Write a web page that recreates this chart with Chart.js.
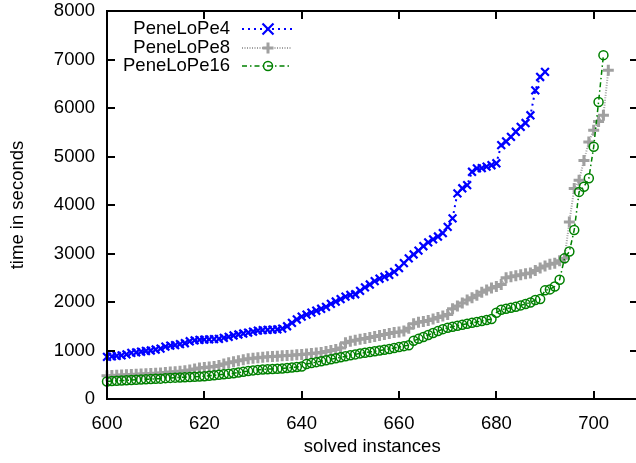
<!DOCTYPE html>
<html>
<head>
<meta charset="utf-8">
<script src="https://cdn.jsdelivr.net/npm/chart.js@4/dist/chart.umd.min.js"></script>
<style>
  html, body { margin: 0; padding: 0; background: #fff; overflow: hidden; }
  #wrap { width: 646px; height: 463px; }
</style>
</head>
<body>
<div id="wrap"><canvas id="cactus" width="646" height="463"></canvas></div>
<script>
// solved instance index of the first value in each run
const firstInstance = 600;

const xTicks = [600, 620, 640, 660, 680, 700];
const yTicks = [0, 1000, 2000, 3000, 4000, 5000, 6000, 7000, 8000];

// cumulative solve times (seconds), one value per solved instance
const penelope4 = [
  870, 880, 890, 900, 920, 950, 960, 975, 990, 1000,
  1020, 1040, 1080, 1100, 1110, 1130, 1150, 1190, 1210, 1220,
  1225, 1230, 1235, 1240, 1260, 1280, 1310, 1330, 1350, 1370,
  1390, 1410, 1420, 1425, 1430, 1435, 1450, 1500, 1570, 1640,
  1700, 1740, 1780, 1820, 1860, 1900, 1960, 2010, 2060, 2110,
  2145, 2160, 2230, 2300, 2360, 2430, 2480, 2520, 2560, 2620,
  2700, 2800, 2900, 2980, 3060, 3150, 3230, 3290, 3350, 3420,
  3550, 3725, 4240, 4345, 4410, 4685, 4755, 4760, 4790, 4820,
  4860, 5235, 5310, 5405, 5510, 5610, 5690, 5850, 6365, 6640,
  6745
];

const penelope8 = [
  480, 485, 490, 495, 500, 505, 510, 515, 520, 525,
  530, 535, 545, 555, 560, 570, 580, 600, 620, 640,
  650, 660, 670, 690, 720, 750, 770, 790, 810, 830,
  840, 850, 860, 870, 875, 880, 890, 895, 900, 910,
  920, 930, 940, 950, 960, 980, 1000, 1020, 1050, 1160,
  1190, 1210, 1230, 1250, 1270, 1290, 1310, 1330, 1350, 1370,
  1380, 1400, 1460, 1550, 1580, 1600, 1620, 1650, 1680, 1710,
  1740, 1860, 1920, 1980, 2040, 2090, 2140, 2200, 2250, 2290,
  2320, 2360, 2500, 2520, 2540, 2560, 2580, 2600, 2650, 2700,
  2740, 2780, 2800, 2850, 2900, 3650, 4340, 4510, 4920, 5300,
  5540, 5720, 5850, 6780
];

const penelope16 = [
  360, 370, 375, 380, 385, 390, 395, 400, 405, 410,
  415, 420, 430, 435, 440, 445, 450, 455, 460, 465,
  470, 480, 490, 500, 510, 520, 530, 545, 560, 575,
  590, 600, 610, 615, 620, 625, 630, 640, 650, 660,
  670, 720, 740, 760, 780, 800, 820, 840, 860, 880,
  900, 920, 940, 955, 970, 985, 1000, 1015, 1030, 1050,
  1070, 1090, 1110, 1200, 1240, 1280, 1320, 1360, 1400, 1440,
  1470, 1490, 1510, 1530, 1550, 1570, 1590, 1610, 1630, 1650,
  1780, 1840, 1860, 1880, 1900, 1930, 1960, 1990, 2040, 2060,
  2240, 2260, 2320, 2460, 2900, 3040, 3485, 4270, 4375, 4550,
  5200, 6125, 7090
];

const toPoints = (values) => values.map((y, i) => ({ x: firstInstance + i, y: y }));

const fontFamily = "'Liberation Sans', Arial, sans-serif";
const baseFont = { family: fontFamily, size: 18.5 };

// gnuplot style marker, used for the key samples
function drawMarker(ctx, style, x, y, r, color, width) {
  ctx.save();
  ctx.strokeStyle = color;
  ctx.lineWidth = width;
  ctx.setLineDash([]);
  ctx.beginPath();
  if (style === "crossRot") {
    ctx.moveTo(x - r, y - r); ctx.lineTo(x + r, y + r);
    ctx.moveTo(x - r, y + r); ctx.lineTo(x + r, y - r);
  } else if (style === "cross") {
    ctx.moveTo(x - r, y); ctx.lineTo(x + r, y);
    ctx.moveTo(x, y - r); ctx.lineTo(x, y + r);
  } else {
    ctx.arc(x, y, r, 0, Math.PI * 2);
  }
  ctx.stroke();
  ctx.restore();
}

// box round the plot with inward ticks on all four sides
const framePlugin = {
  id: "frame",
  afterDraw(chart) {
    const { ctx } = chart;
    const xs = chart.scales.x, ys = chart.scales.y;
    const left = Math.round(xs.getPixelForValue(xs.min));
    const right = Math.round(xs.getPixelForValue(xs.max));
    const top = Math.round(ys.getPixelForValue(ys.max));
    const bottom = Math.round(ys.getPixelForValue(ys.min));
    const w = 2, len = 8;
    ctx.save();
    ctx.fillStyle = "#000";
    // border
    ctx.fillRect(left - 1, top - 1, right - left + w, w);
    ctx.fillRect(left - 1, bottom - 1, right - left + w, w);
    ctx.fillRect(left - 1, top - 1, w, bottom - top + w);
    ctx.fillRect(right - 1, top - 1, w, bottom - top + w);
    // inward ticks
    xTicks.forEach((v) => {
      const px = Math.round(xs.getPixelForValue(v));
      ctx.fillRect(px - 1, bottom - len, w, len);
      ctx.fillRect(px - 1, top, w, len);
    });
    yTicks.forEach((v) => {
      const py = Math.round(ys.getPixelForValue(v));
      ctx.fillRect(left, py - 1, len, w);
      ctx.fillRect(right - len, py - 1, len, w);
    });
    ctx.restore();
  }
};

// key in the top left corner: right aligned label, then line sample
const keyPlugin = {
  id: "key",
  afterDraw(chart) {
    const { ctx } = chart;
    const rows = [29, 48, 66];
    ctx.save();
    ctx.font = "18.5px " + fontFamily;
    ctx.textAlign = "right";
    ctx.textBaseline = "middle";
    chart.data.datasets.forEach((ds, i) => {
      const y = rows[i];
      ctx.fillStyle = "#000";
      ctx.fillText(ds.label, 230, y);
      ctx.strokeStyle = ds.borderColor;
      ctx.lineWidth = ds.borderWidth;
      ctx.setLineDash(ds.borderDash);
      ctx.beginPath();
      ctx.moveTo(242, y);
      ctx.lineTo(292, y);
      ctx.stroke();
      drawMarker(ctx, ds.pointStyle, 268, y, ds.pointRadius, ds.borderColor, ds.pointBorderWidth);
    });
    ctx.restore();
  }
};

new Chart(document.getElementById("cactus").getContext("2d"), {
  type: "line",
  data: {
    datasets: [
      {
        label: "PeneLoPe4",
        data: toPoints(penelope4),
        borderColor: "#0000ff",
        backgroundColor: "#0000ff",
        borderWidth: 2,
        borderDash: [2, 4],
        pointStyle: "crossRot",
        pointRadius: 5.5,
        pointBorderWidth: 2.2,
        tension: 0,
        order: 3,
      },
      {
        label: "PeneLoPe8",
        data: toPoints(penelope8),
        borderColor: "#a0a0a0",
        backgroundColor: "#a0a0a0",
        borderWidth: 2,
        borderDash: [1, 1.5],
        pointStyle: "cross",
        pointRadius: 5.5,
        pointBorderWidth: 3,
        tension: 0,
        order: 2,
      },
      {
        label: "PeneLoPe16",
        data: toPoints(penelope16),
        borderColor: "#008000",
        backgroundColor: "rgba(0,0,0,0)",
        borderWidth: 1.5,
        borderDash: [5, 3, 1.5, 3],
        pointStyle: "circle",
        pointRadius: 4.5,
        pointBorderWidth: 1.5,
        tension: 0,
        order: 1,
      },
    ],
  },
  options: {
    responsive: false,
    animation: false,
    clip: false,
    layout: { padding: { top: 11, right: 7, left: 0, bottom: 0 } },
    plugins: {
      legend: { display: false },
      tooltip: { enabled: false },
    },
    scales: {
      x: {
        type: "linear",
        min: 600,
        max: 709,
        afterBuildTicks: (s) => { s.ticks = xTicks.map((v) => ({ value: v })); },
        afterFit: (s) => { s.height = 64; s.paddingLeft = 0; s.paddingRight = 0; },
        grid: { display: false },
        border: { display: false },
        ticks: { color: "#000", font: baseFont, padding: 6, maxRotation: 0, autoSkip: false },
        title: { display: true, text: "solved instances", color: "#000", font: baseFont, padding: { top: 0, bottom: 5 } },
      },
      y: {
        min: 0,
        max: 8000,
        afterBuildTicks: (s) => { s.ticks = yTicks.map((v) => ({ value: v })); },
        afterFit: (s) => { s.width = 107; s.paddingTop = 0; s.paddingBottom = 0; },
        grid: { display: false },
        border: { display: false },
        ticks: { color: "#000", font: baseFont, padding: 4, autoSkip: false, callback: (v) => String(v) },
        title: { display: true, text: "time in seconds", color: "#000", font: baseFont, padding: { top: 7, bottom: 0 } },
      },
    },
  },
  plugins: [framePlugin, keyPlugin],
});
</script>
</body>
</html>
